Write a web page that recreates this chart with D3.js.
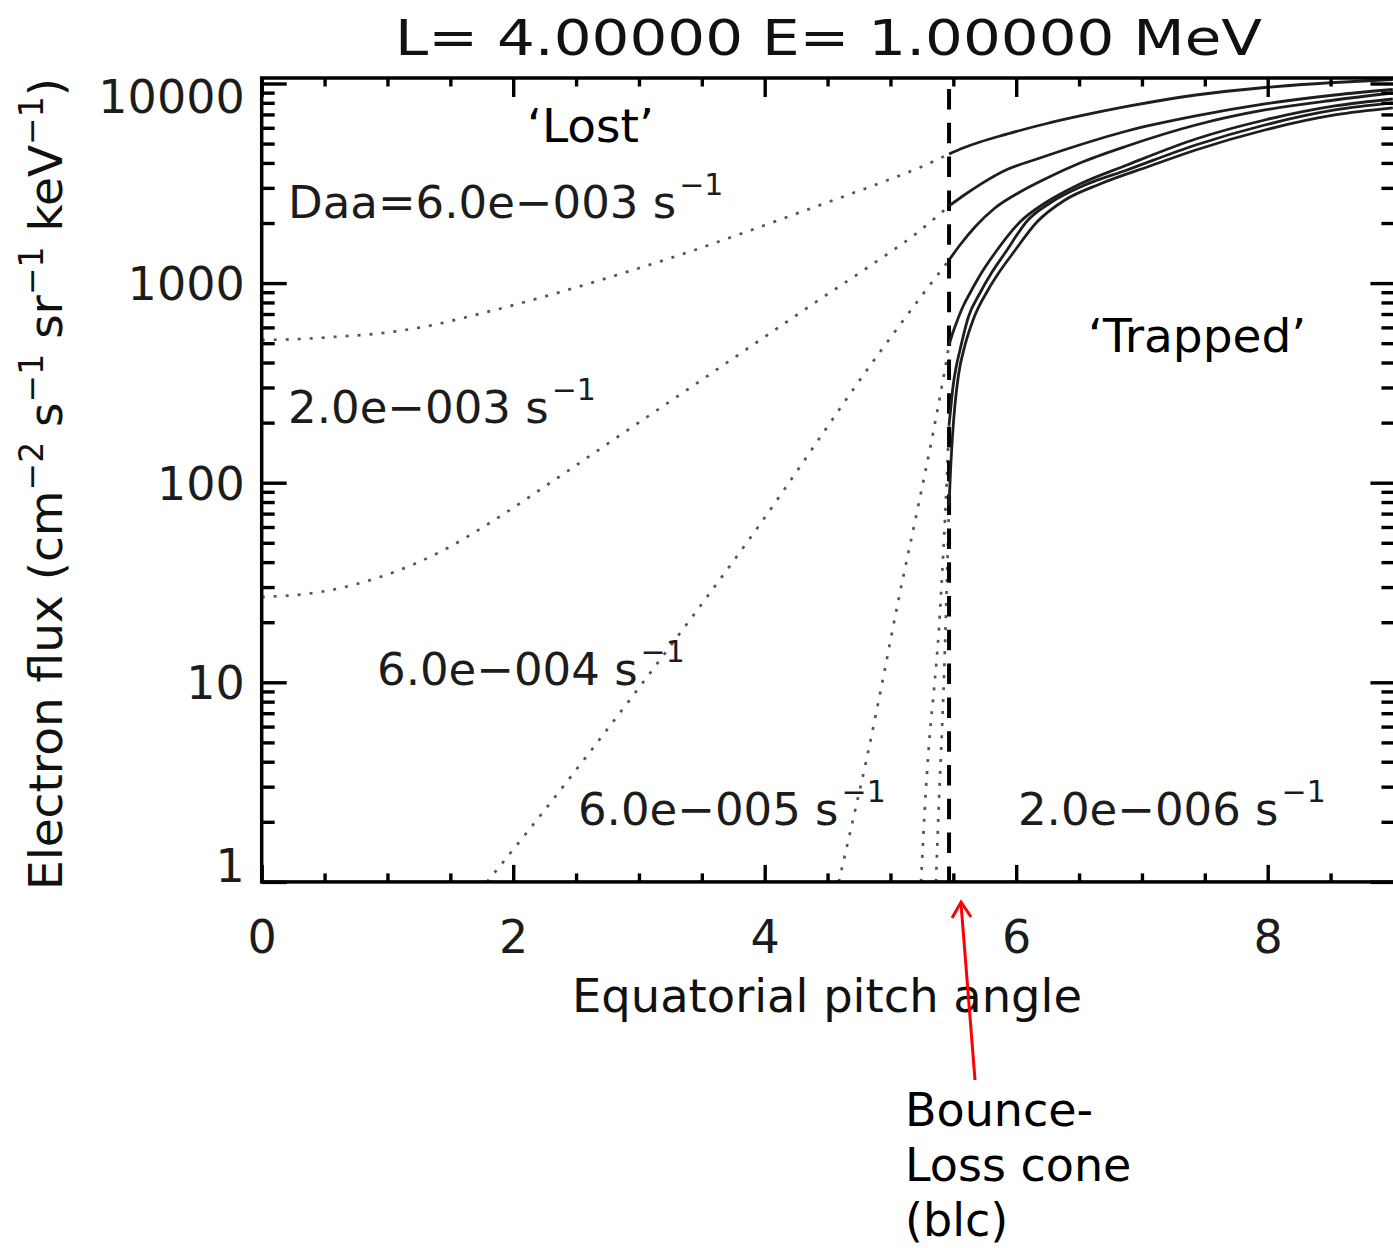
<!DOCTYPE html>
<html><head><meta charset="utf-8">
<script src="https://cdn.jsdelivr.net/npm/d3@7"></script>
<style>html,body{margin:0;padding:0;background:#fff;}svg{display:block;}</style>
</head><body>
<svg id="c" width="1393" height="1248"></svg>
<script>
// ---------- DATA ----------
const titleText = "L= 4.00000 E= 1.00000 MeV";
const xTitle = "Equatorial pitch angle";
const xMajorTicks = [0, 2, 4, 6, 8];
const xMinorTicks = [0.5, 1, 1.5, 2.5, 3, 3.5, 4.5, 5, 5.5, 6.5, 7, 7.5, 8.5];
const yMajorTicks = [1, 10, 100, 1000, 10000];
const yTickLabels = ["1", "10", "100", "1000", "10000"];
const yMinorTicks = [2,3,4,5,6,7,8,9,20,30,40,50,60,70,80,90,200,300,400,500,600,700,800,900,2000,3000,4000,5000,6000,7000,8000,9000];
const blcAngle = 5.466;

// diffusion coefficients (s^-1)
const daaNames = ["6.0e-003", "2.0e-003", "6.0e-004", "6.0e-005", "2.0e-005", "2.0e-006"];

// [pitch angle (deg), flux] inside the loss cone (dotted)
const lost_6e3 = [[0,518.8],[0.305,524.8],[0.567,537],[0.965,562.3],[1.283,602.8],[1.760,708.5],[2.293,871.7],[2.825,1098],[3.350,1399],[3.828,1782],[4.376,2378],[4.917,3174],[5.243,3817],[5.466,4436]];
const lost_2e3 = [[0,26.76],[0.464,28.34],[0.941,33.7],[1.418,44.96],[1.863,65.79],[2.293,99.65],[2.714,151],[3.088,218.4],[3.486,323.3],[3.859,467.7],[4.384,786],[4.917,1320],[5.179,1722],[5.466,2434]];
const lost_6e4 = [[1.792,1.0],[2.157,1.93],[3.048,10.3],[3.884,52.8],[4.917,452],[5.235,842],[5.466,1305]];
const lost_6e5 = [[4.589,1.0],[4.686,1.85],[4.813,4.2],[4.948,11],[5.059,25],[5.218,75],[5.337,175],[5.433,370],[5.466,489.6]];
const lost_2e5 = [[5.243,1.0],[5.282,2.89],[5.314,5.58],[5.346,9.16],[5.385,18.3],[5.417,41],[5.441,81.9],[5.466,194.6]];
const lost_2e6 = [[5.362,1.0],[5.386,2.57],[5.41,5.77],[5.433,14.5],[5.449,32.6],[5.466,77.3]];

// [pitch angle (deg), flux] outside the loss cone (solid)
const trapped_6e3 = [[5.466,4436],[5.577,4752],[5.712,5092],[5.871,5458],[6.030,5815],[6.229,6268],[6.507,6874],[6.881,7671],[7.428,8757],[7.977,9550],[8.534,10116],[8.995,10471]];
const trapped_2e3 = [[5.466,2434],[5.593,2779],[5.712,3115],[5.927,3708],[6.165,4184],[6.428,4752],[6.881,5781],[7.428,6874],[7.977,7897],[8.534,8757],[8.995,9331]];
const trapped_6e4 = [[5.466,1305],[5.553,1552],[5.672,1910],[5.831,2378],[6.030,2860],[6.229,3323],[6.507,3997],[6.881,4863],[7.428,6196],[7.977,7367],[8.534,8268],[8.995,8963]];
const trapped_6e5 = [[5.466,489.6],[5.490,549.6],[5.527,638.5],[5.579,767.8],[5.633,891.9],[5.728,1136],[5.831,1415],[6.030,2024],[6.229,2519],[6.507,3137],[6.881,3906],[7.428,5272],[7.977,6564],[8.534,7716],[8.995,8364]];
const trapped_2e5 = [[5.466,194.6],[5.482,245.1],[5.497,301.7],[5.521,375.5],[5.553,462.2],[5.617,668.7],[5.712,891.9],[5.808,1136],[5.911,1415],[6.094,2071],[6.269,2519],[6.547,3101],[6.881,3687],[7.428,4920],[7.977,6196],[8.534,7367],[8.995,7988]];
const trapped_2e6 = [[5.466,77.3],[5.478,115.8],[5.494,173.4],[5.513,245.1],[5.541,346.4],[5.593,489.6],[5.657,653.5],[5.776,923.4],[5.871,1149],[5.975,1415],[6.165,2024],[6.388,2609],[6.666,3137],[7.064,3861],[7.428,4643],[7.977,5848],[8.534,6954],[8.995,7542]];

const lostSeries = [lost_6e3, lost_2e3, lost_6e4, lost_6e5, lost_2e5, lost_2e6];
const trappedSeries = [trapped_6e3, trapped_2e3, trapped_6e4, trapped_6e5, trapped_2e5, trapped_2e6];

// curve labels: text, anchor angle (deg), anchor flux
const curveLabels = ["Daa=6.0e\u2212003 s", "2.0e\u2212003 s", "6.0e\u2212004 s", "6.0e\u2212005 s", "2.0e\u2212006 s"];
const curveLabelAngle = [0.21, 0.21, 0.917, 2.515, 6.014];
const curveLabelFlux = [2120, 199, 9.7, 1.93, 1.93];

// ---------- DRAW ----------
(function(){
const svg = d3.select("#c");
const FONT = "DejaVu Sans, sans-serif";
const pL = 261.7, pR = 1393.45, pT = 78, pB = 881.9;
const x = d3.scaleLinear().domain([0, 9]).range([pL, pR]);
const y = d3.scaleLog().domain([1, 10655]).range([pB, pT]);

svg.append("rect").attr("width",1393).attr("height",1248).attr("fill","#fff");

svg.append("defs").append("clipPath").attr("id","plot")
  .append("rect").attr("x",pL).attr("y",pT).attr("width",pR-pL).attr("height",pB-pT);

const line = d3.line().x(d => x(d[0])).y(d => y(d[1])).curve(d3.curveMonotoneX);
const gCurves = svg.append("g").attr("clip-path","url(#plot)");

gCurves.selectAll("path.lost").data(lostSeries).join("path")
  .attr("class","lost").attr("d", line)
  .attr("fill","none").attr("stroke","#555").attr("stroke-width",2.7)
  .attr("stroke-dasharray","3,9");

// blc dashed line
gCurves.append("line")
  .attr("x1", x(blcAngle)).attr("x2", x(blcAngle))
  .attr("y1", y.range()[1]).attr("y2", y.range()[0])
  .attr("stroke","#000").attr("stroke-width",4)
  .attr("stroke-dasharray","20.5,13.3").attr("stroke-dashoffset",22.8);

gCurves.selectAll("path.trapped").data(trappedSeries).join("path")
  .attr("class","trapped").attr("d", line)
  .attr("fill","none").attr("stroke","#1e1e1e").attr("stroke-width",2.8);

// axes
function styleAxis(g, w) {
  g.select(".domain").remove();
  g.selectAll(".tick line").attr("stroke","#000").attr("stroke-width", w);
  g.selectAll(".tick text").attr("font-family",FONT).attr("font-size",46).attr("fill","#1c1c1c");
}
const fmtX = d => String(d);
svg.append("g").attr("transform",`translate(0,${pB})`)
  .call(d3.axisBottom(x).tickValues(xMajorTicks).tickSize(-17).tickPadding(38).tickFormat(fmtX))
  .call(g => styleAxis(g, 3.4));
svg.append("g").attr("transform",`translate(0,${pB})`)
  .call(d3.axisBottom(x).tickValues(xMinorTicks).tickSize(-8.5).tickFormat(""))
  .call(g => styleAxis(g, 3.4));
svg.append("g").attr("transform",`translate(0,${pT})`)
  .call(d3.axisTop(x).tickValues(xMajorTicks).tickSize(-19).tickFormat(""))
  .call(g => styleAxis(g, 3.4));
svg.append("g").attr("transform",`translate(0,${pT})`)
  .call(d3.axisTop(x).tickValues(xMinorTicks).tickSize(-8.5).tickFormat(""))
  .call(g => styleAxis(g, 3.4));

const yLeft = svg.append("g").attr("transform",`translate(${pL},0)`)
  .call(d3.axisLeft(y).tickValues(yMajorTicks).tickSize(-25).tickPadding(17)
        .tickFormat((d,i) => yTickLabels[i]))
  .call(g => styleAxis(g, 3.4));
yLeft.selectAll(".tick text").attr("dy", d => d === 10000 ? "0.62em" : (d === 1 ? "0.0em" : "0.36em"));
svg.append("g").attr("transform",`translate(${pL},0)`)
  .call(d3.axisLeft(y).tickValues(yMinorTicks).tickSize(-13).tickFormat(""))
  .call(g => styleAxis(g, 3.4));
svg.append("g").attr("transform",`translate(${pR},0)`)
  .call(d3.axisRight(y).tickValues(yMajorTicks).tickSize(-23).tickFormat(""))
  .call(g => styleAxis(g, 3.4));
svg.append("g").attr("transform",`translate(${pR},0)`)
  .call(d3.axisRight(y).tickValues(yMinorTicks).tickSize(-12).tickFormat(""))
  .call(g => styleAxis(g, 3.4));

// frame
svg.append("rect").attr("x",pL).attr("y",pT).attr("width",pR-pL+2).attr("height",pB-pT)
  .attr("fill","none").attr("stroke","#000").attr("stroke-width",3.5);

// title
svg.append("text").attr("x",395).attr("y",55)
  .attr("font-family",FONT).attr("font-size",50).attr("fill","#111")
  .attr("textLength",867).attr("lengthAdjust","spacingAndGlyphs")
  .text(titleText);

// x title
svg.append("text").attr("x",572).attr("y",1012)
  .attr("font-family",FONT).attr("font-size",47).attr("fill","#111")
  .attr("textLength",510).attr("lengthAdjust","spacingAndGlyphs")
  .text(xTitle);

// y title
const yt = svg.append("text").attr("transform","translate(62,484) rotate(-90)")
  .attr("text-anchor","middle").attr("font-family",FONT).attr("font-size",47).attr("fill","#111")
  .attr("textLength",812).attr("lengthAdjust","spacingAndGlyphs");
const ytParts = [["Electron flux (cm",0],["\u22122",1],[" s",0],["\u22121",1],[" sr",0],["\u22121",1],[" keV",0],["\u22121",1],[")",0]];
let prevSup = 0;
ytParts.forEach(([t,s]) => {
  const dy = s ? -19 : (prevSup ? 19 : 0);
  yt.append("tspan").attr("dy",dy).attr("font-size", s ? 33 : 47).text(t);
  prevSup = s;
});

// curve labels
curveLabels.forEach((t,i) => {
  const tx = svg.append("text").attr("x", x(curveLabelAngle[i])).attr("y", y(curveLabelFlux[i]))
    .attr("font-family",FONT).attr("font-size",45).attr("fill","#1c1c1c");
  tx.append("tspan").text(t);
  tx.append("tspan").attr("dx",3).attr("dy",-23).attr("font-size",30).text("\u22121");
});

// region annotations
const ann = [["\u2018Lost\u2019",527,142],["\u2018Trapped\u2019",1088,352]];
ann.forEach(([t,ax,ay]) => svg.append("text").attr("x",ax).attr("y",ay)
  .attr("font-family",FONT).attr("font-size",47).attr("fill","#000").text(t));

const blcLines = ["Bounce-","Loss cone","(blc)"];
blcLines.forEach((t,i) => svg.append("text").attr("x",905).attr("y",1126+i*55)
  .attr("font-family",FONT).attr("font-size",46).attr("fill","#000").text(t));

// red arrow
const tipX = x(blcAngle) + 12, tipY = 902;
svg.append("line").attr("x1",975).attr("y1",1080).attr("x2",tipX).attr("y2",tipY+2)
  .attr("stroke","#ff0000").attr("stroke-width",3);
svg.append("polyline").attr("points",`${tipX-9},${tipY+16} ${tipX},${tipY} ${tipX+10},${tipY+15}`)
  .attr("fill","none").attr("stroke","#ff0000").attr("stroke-width",3);
})();
</script>
</body></html>
